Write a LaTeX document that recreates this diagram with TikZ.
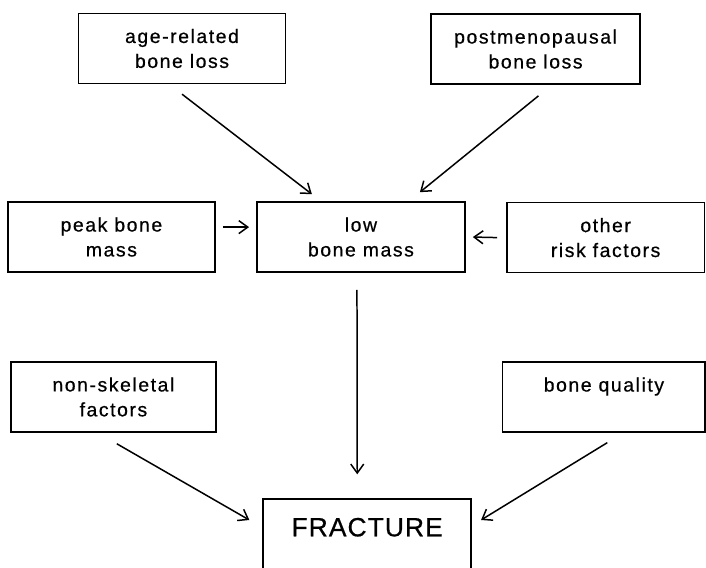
\documentclass[tikz,border=0pt]{standalone}
\usepackage{fontspec}
\usepackage{tikz}
\usetikzlibrary{arrows.meta, positioning, calc}
\newfontfamily\boxfont[LetterSpace=8, FakeBold=0.6]{Liberation Sans}
\newfontfamily\bigfont[LetterSpace=4, FakeBold=0.6]{Liberation Sans}

\begin{document}
\begin{tikzpicture}[
  font=\boxfont\fontsize{19.5}{25}\selectfont,
  factor/.style={draw, line width=1.5pt, align=center, inner sep=0pt,
    minimum width=7.3cm, minimum height=2.47cm},
  arr/.style={-{Straight Barb[length=9pt, width=13pt, line width=1.5pt]},
    line width=1.5pt}
]
  \useasboundingbox (0,0) rectangle (24.90,-20.0);
  \begin{scope}
  \clip (0,0) rectangle (24.90,-20.0);
  \node[factor] (age) at (6.42,-1.71) {age-related\\bone loss};
  \node[factor, minimum width=7.37cm] (postmeno) at (18.89,-1.73)
    {postmenopausal\\bone loss};
  \node[factor] (peak) at (3.93,-8.36) {peak bone\\mass};
  \node[factor, minimum width=7.34cm] (low) at (12.73,-8.36) {low\\bone mass};
  \node[factor, minimum width=6.96cm] (risk) at (21.36,-8.38)
    {other\\risk factors};
  \node[factor, minimum width=7.23cm] (nonskel) at (4.00,-14.00)
    {non-skeletal\\factors};
  \node[factor, minimum width=7.14cm] (quality) at (21.30,-14.00)
    {bone quality\\\mbox{}};
  \node[factor, minimum width=7.34cm, text depth=0.5cm,
    font=\bigfont\fontsize{26.5}{30}\selectfont]
    (fracture) at (12.95,-18.84) {FRACTURE};
  \end{scope}
  \draw[arr] ([yshift=-0.35cm]age.south)
    -- ([xshift=-1.73cm, yshift=0.25cm]low.north);
  \draw[arr] ([xshift=0.1cm, yshift=-0.39cm]postmeno.south)
    -- ([xshift=2.08cm, yshift=0.32cm]low.north);
  \draw[arr] ([xshift=0.25cm, yshift=0.35cm]peak.east)
    -- ([xshift=-0.25cm, yshift=0.35cm]low.west);
  \draw[arr] ([xshift=-0.32cm]risk.west) -- ([xshift=0.25cm]low.east);
  \draw[arr] ([xshift=-0.14cm, yshift=-0.6cm]low.south)
    -- ([xshift=-0.35cm, yshift=0.85cm]fracture.north);
  \draw[arr] ([xshift=0.12cm, yshift=-0.39cm]nonskel.south)
    -- ([xshift=-0.46cm, yshift=0.5cm]fracture.west);
  \draw[arr] ([xshift=0.12cm, yshift=-0.35cm]quality.south)
    -- ([xshift=0.32cm, yshift=0.5cm]fracture.east);
\end{tikzpicture}
\end{document}
